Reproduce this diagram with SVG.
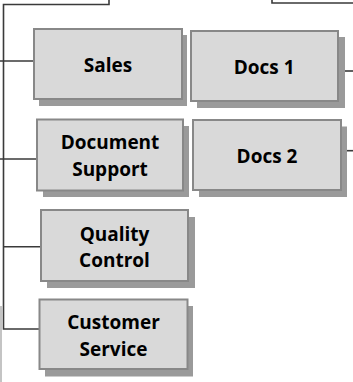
<svg xmlns="http://www.w3.org/2000/svg" width="353" height="382" viewBox="0 0 353 382">
<style>
.box{fill:#d9d9d9;stroke:#888888;stroke-width:2}
.sh{fill:#9a9a9a}
.ln{fill:none;stroke:#3a3a3a;stroke-width:1.6}
.lbl{font-family:"Open Sans","Liberation Sans",sans-serif;font-weight:bold;font-size:19px;fill:#000;text-anchor:middle}
</style>
<rect width="353" height="382" fill="#ffffff"/>
<g id="connectors">
<path class="ln" d="M109,0 V4.5 H3.5 V329 H39.5"/>
<path class="ln" d="M0,61 H34"/>
<path class="ln" d="M0,159 H37"/>
<path class="ln" d="M3.5,246.7 H41"/>
<path class="ln" d="M272,0 V3 H353"/>
<path class="ln" d="M345,71 H353"/>
<path class="ln" d="M346,150.7 H353"/>
<path d="M1,306 V382" fill="none" stroke="#b0b0b0" stroke-width="1.5"/>
</g>
<g id="sales">
<rect class="sh" x="39" y="35" width="148" height="71"/>
<rect class="box" x="34" y="29" width="148" height="70"/>
<text class="lbl" x="108" y="72.3">Sales</text>
</g>
<g id="docs1">
<rect class="sh" x="197" y="37" width="148" height="71"/>
<rect class="box" x="191" y="31" width="147" height="70"/>
<text class="lbl" x="264.2" y="74.3">Docs 1</text>
</g>
<g id="document-support">
<rect class="sh" x="43" y="126" width="146" height="71"/>
<rect class="box" x="37" y="119.5" width="146" height="71"/>
<text class="lbl" x="110" y="149.3">Document</text>
<text class="lbl" x="110" y="176">Support</text>
</g>
<g id="docs2">
<rect class="sh" x="199" y="126.5" width="148" height="70.5"/>
<rect class="box" x="193" y="120" width="148" height="70"/>
<text class="lbl" x="267" y="163.3">Docs 2</text>
</g>
<g id="quality-control">
<rect class="sh" x="47" y="217" width="148" height="71"/>
<rect class="box" x="41" y="210" width="147" height="71"/>
<text class="lbl" x="114.5" y="240.5">Quality</text>
<text class="lbl" x="114.5" y="267.3">Control</text>
</g>
<g id="customer-service">
<rect class="sh" x="45" y="306" width="148" height="70.5"/>
<rect class="box" x="39.5" y="299.5" width="148" height="69.5"/>
<text class="lbl" x="113.5" y="329.3">Customer</text>
<text class="lbl" x="113.5" y="356">Service</text>
</g>
</svg>
